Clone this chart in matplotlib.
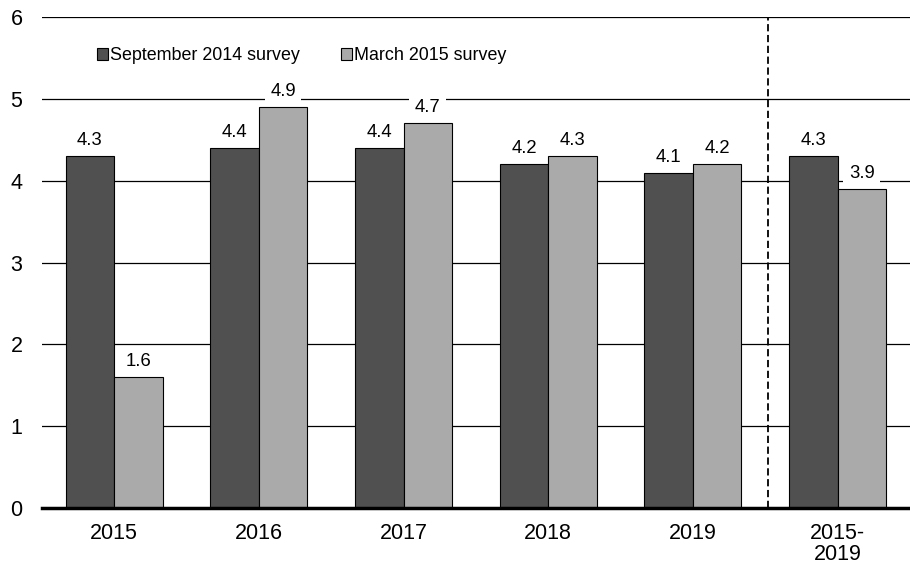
import matplotlib
matplotlib.use('Agg')
import matplotlib.pyplot as plt
import numpy as np

plt.rcParams['font.family'] = ['Liberation Sans', 'DejaVu Sans']

categories = ['2015', '2016', '2017', '2018', '2019', '2015-\n2019']
sep2014 = [4.3, 4.4, 4.4, 4.2, 4.1, 4.3]
mar2015 = [1.6, 4.9, 4.7, 4.3, 4.2, 3.9]
series_names = ['September 2014 survey', 'March 2015 survey']

dark = '#505050'
light = '#aaaaaa'

fig = plt.figure(figsize=(9.1, 5.68), dpi=100)
ax = fig.add_axes([0.046, 0.1056, 0.954, 0.8644])

x = np.arange(len(categories))
w = 0.335
b1 = ax.bar(x - w/2, sep2014, w, color=dark, edgecolor='black', linewidth=0.8,
            label=series_names[0], zorder=2)
b2 = ax.bar(x + w/2, mar2015, w, color=light, edgecolor='black', linewidth=0.8,
            label=series_names[1], zorder=2)

for bars, vals in ((b1, sep2014), (b2, mar2015)):
    for r, v in zip(bars, vals):
        ax.annotate('%.1f' % v, (r.get_x() + r.get_width()/2, v),
                    xytext=(0, 5), textcoords='offset points',
                    ha='center', va='bottom', fontsize=13.3, zorder=4,
                    bbox=dict(boxstyle='square,pad=0.3', fc='white', ec='none'))

ax.set_xlim(-0.5, len(categories) - 0.5)
ax.set_ylim(0, 6)
ax.set_yticks(range(0, 7))
ax.yaxis.grid(True, color='black', linewidth=0.9)
ax.set_axisbelow(True)
ax.axvline(4.52, color='black', linestyle=(0, (4, 2)), linewidth=1.3, zorder=3)

ax.set_xticks(x)
ax.set_xticklabels(categories, linespacing=1.0)
ax.tick_params(axis='both', length=0, labelsize=15.5)
ax.tick_params(axis='x', pad=11)
ax.tick_params(axis='y', pad=14)
for s in ('top', 'right', 'left'):
    ax.spines[s].set_visible(False)
ax.spines['bottom'].set_linewidth(2.5)
ax.spines['bottom'].set_zorder(5)

ax.legend(loc='upper left', bbox_to_anchor=(0.0555, 0.953), ncol=2, frameon=False,
          fontsize=12.9, handlelength=0.6, handleheight=0.6, handletextpad=0.12,
          columnspacing=2.3, borderaxespad=0)

fig.savefig('out.png', dpi=100)
